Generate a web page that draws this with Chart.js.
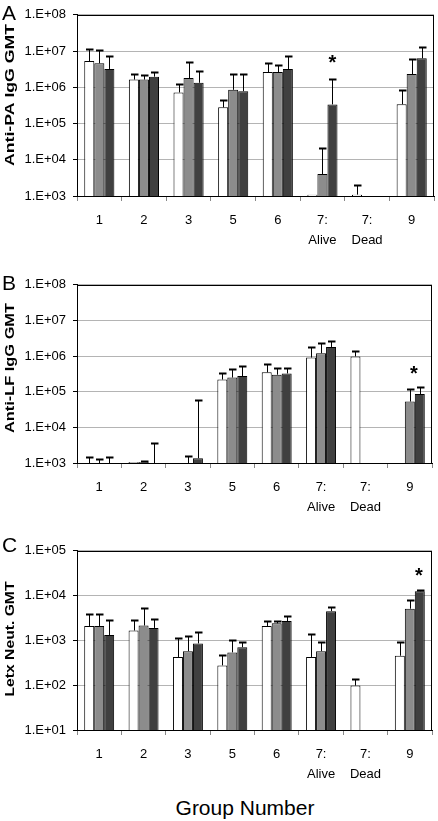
<!DOCTYPE html>
<html><head><meta charset="utf-8">
<script src="https://cdn.jsdelivr.net/npm/chart.js@4.4.1/dist/chart.umd.min.js"></script>
<style>
html,body{margin:0;padding:0;background:#fff;}
#wrap{position:relative;width:438px;height:821px;overflow:hidden;background:#fff;font-family:"Liberation Sans",Arial,sans-serif;}
canvas{position:absolute;left:0;}
.lbl{position:absolute;font-size:21px;line-height:21px;color:#000;white-space:nowrap;}
</style></head><body>
<div id="wrap">
<canvas id="cA" width="438" height="262" style="top:0px;width:438px;height:262px"></canvas>
<canvas id="cB" width="438" height="262" style="top:270px;width:438px;height:262px"></canvas>
<canvas id="cC" width="438" height="254" style="top:536px;width:438px;height:254px"></canvas>
<div class="lbl" style="left:2px;top:2px">A</div>
<div class="lbl" style="left:2px;top:272px">B</div>
<div class="lbl" style="left:2px;top:534px">C</div>
<div class="lbl" style="left:145px;top:797px;width:200px;text-align:center">Group Number</div>
</div>
<script>
// ---- data ----
const categories = ['1', '2', '3', '5', '6', ['7:', 'Alive'], ['7:', 'Dead'], '9'];

// Panel A: Anti-PA IgG GMT
const paWhite    = [5.3e6, 1.63e6, 7.2e5, 2.8e5, 2.63e6, 1.09e3, 1.09e3, 3.4e5];
const paWhiteErr = [1.17e7, 2.4e6, 1.23e6, 4.5e5, 4.6e6, null, 2.0e3, 8.3e5];
const paGray     = [4.6e6, 1.63e6, 1.8e6, 8.5e5, 2.63e6, 4.05e3, null, 2.32e6];
const paGrayErr  = [1.08e7, 2.2e6, 4.9e6, 2.4e6, 4.2e6, 2.05e4, null, 6.2e6];
const paDark     = [3.2e6, 1.96e6, 1.33e6, 7.8e5, 3.2e6, 3.37e5, null, 6.3e6];
const paDarkErr  = [7.2e6, 2.7e6, 2.85e6, 2.4e6, 7.2e6, 1.64e6, null, 1.33e7];

// Panel B: Anti-LF IgG GMT
const lfWhite    = [1.0e3, 1.07e3, null, 2.2e5, 3.5e5, 9.1e5, 9.8e5, null];
const lfWhiteErr = [1.45e3, null, null, 3.3e5, 6.1e5, 1.85e6, 1.4e6, null];
const lfGray     = [1.0e3, 1.07e3, 1.0e3, 2.5e5, 3.0e5, 1.2e6, null, 5.3e4];
const lfGrayErr  = [1.26e3, 1.16e3, 1.58e3, 4.4e5, 4.7e5, 2.3e6, null, 1.2e5];
const lfDark     = [1.0e3, 1.0e3, 1.36e3, 2.75e5, 3.25e5, 1.8e6, null, 8.6e4];
const lfDarkErr  = [1.45e3, 3.7e3, 5.7e4, 5.2e5, 4.7e5, 2.7e6, null, 1.33e5];

// Panel C: Letx Neut. GMT
const ltWhite    = [2.1e3, 1.66e3, 427, 277, 2.1e3, 427, 98, 455];
const ltWhiteErr = [3.8e3, 2.9e3, 1.13e3, 480, 2.7e3, 1.4e3, 138, 910];
const ltGray     = [2.1e3, 2.15e3, 575, 540, 2.4e3, 575, null, 5.1e3];
const ltGrayErr  = [3.8e3, 5.2e3, 1.26e3, 1.0e3, 2.7e3, 910, null, 8.1e3];
const ltDark     = [1.32e3, 1.9e3, 855, 705, 2.7e3, 4.5e3, null, 1.25e4];
const ltDarkErr  = [2.9e3, 3.05e3, 1.55e3, 910, 3.55e3, 5.5e3, null, 1.3e4];

// ---- styling / layout ----
const FAMILY = '"Liberation Sans", Arial, sans-serif';
const COLORS = ['#ffffff', '#8c8c8c', '#404040'];

const fmt = v => {
  const e = Math.round(Math.log10(v));
  return '1.E+' + String(e).padStart(2, '0');
};

const extrasPlugin = {
  id: 'extras',
  afterDatasetsDraw(chart, args, opts) {
    const ctx = chart.ctx, ys = chart.scales.y;
    ctx.save();
    ctx.strokeStyle = '#000';
    opts.errors.forEach((errArr, i) => {
      const meta = chart.getDatasetMeta(i);
      errArr.forEach((e, j) => {
        const v = chart.data.datasets[i].data[j];
        if (e == null || v == null) return;
        const el = meta.data[j];
        const x = Math.round(el.x) + 0.5;
        const yb = el.y;
        const yt = Math.round(ys.getPixelForValue(e)) + 0.5;
        ctx.lineWidth = 1;
        ctx.beginPath(); ctx.moveTo(x, yb); ctx.lineTo(x, yt); ctx.stroke();
        ctx.lineWidth = 2;
        ctx.beginPath(); ctx.moveTo(x - 3.5, yt); ctx.lineTo(x + 4, yt); ctx.stroke();
      });
    });
    ctx.restore();
  },
  afterDraw(chart, args, opts) {
    const ctx = chart.ctx, a = chart.chartArea, ys = chart.scales.y;
    ctx.save();
    // plot frame
    ctx.strokeStyle = '#000'; ctx.lineWidth = 1;
    ctx.strokeRect(Math.round(a.left) + 0.5, Math.round(a.top) + 0.5,
                   Math.round(a.right - a.left) - 1, Math.round(a.bottom - a.top));
    // y title, stretched along its length
    ctx.font = 'bold 13px ' + FAMILY;
    ctx.fillStyle = '#000';
    const w = ctx.measureText(opts.title).width;
    ctx.translate(opts.titleX, opts.titleY);
    ctx.rotate(-Math.PI / 2);
    ctx.scale(opts.titleLen / w, 1);
    ctx.textAlign = 'center'; ctx.textBaseline = 'alphabetic';
    ctx.fillText(opts.title, 0, 0);
    ctx.restore();
    // asterisk
    const s = opts.star;
    if (s) {
      ctx.save();
      ctx.font = 'bold 20px ' + FAMILY;
      ctx.fillStyle = '#000';
      ctx.textAlign = 'center'; ctx.textBaseline = 'alphabetic';
      const m = ctx.measureText('*');
      const el = chart.getDatasetMeta(s.ds).data[s.cat];
      const cy = ys.getPixelForValue(s.value);
      const base = cy + (m.actualBoundingBoxAscent - m.actualBoundingBoxDescent) / 2;
      ctx.fillText('*', el.x + s.dx, base);
      ctx.restore();
    }
  }
};

function makePanel(id, P) {
  new Chart(document.getElementById(id), {
    type: 'bar',
    data: {
      labels: categories,
      datasets: P.series.map((d, i) => ({
        data: d,
        backgroundColor: COLORS[i],
        borderColor: '#000',
        borderWidth: 1,
        barPercentage: 1.0,
        categoryPercentage: 0.675
      }))
    },
    options: {
      responsive: false,
      devicePixelRatio: 1,
      animation: false,
      events: [],
      layout: { padding: { top: P.top, right: P.right, left: 0, bottom: 0 } },
      plugins: {
        legend: { display: false },
        tooltip: { enabled: false },
        extras: { errors: P.errors, title: P.title, titleX: 14, titleY: P.titleY, titleLen: P.titleLen, star: P.star }
      },
      scales: {
        x: {
          offset: true,
          afterFit: s => { s.height = P.xh; },
          ticks: { font: { size: 13, family: FAMILY, lineHeight: 1.55 }, color: '#000', padding: 9, maxRotation: 0, autoSkip: false },
          grid: { offset: true, drawOnChartArea: false, tickLength: 5, color: '#888', tickColor: '#888' },
          border: { display: true, color: '#000', width: 1 }
        },
        y: {
          type: 'logarithmic',
          min: P.min, max: P.max,
          afterBuildTicks: s => {
            const t = [];
            for (let e = Math.round(Math.log10(P.min)); e <= Math.round(Math.log10(P.max)); e++) t.push({ value: Math.pow(10, e) });
            s.ticks = t;
          },
          afterFit: s => { s.width = 77; },
          ticks: { callback: v => fmt(v), font: { size: 13, family: FAMILY }, color: '#000', padding: 7, autoSkip: false },
          grid: { color: '#b4b4b4', tickColor: '#000', tickLength: 4 },
          border: { display: true, color: '#000', width: 1 }
        }
      }
    },
    plugins: [extrasPlugin]
  });
}

makePanel('cA', {
  series: [paWhite, paGray, paDark],
  errors: [paWhiteErr, paGrayErr, paDarkErr],
  min: 1e3, max: 1e8, top: 9, right: 4, xh: 262 - 196,
  title: 'Anti-PA IgG GMT', titleY: 95, titleLen: 142,
  star: { cat: 5, ds: 2, value: 5.9e6, dx: 0 }
});
makePanel('cB', {
  series: [lfWhite, lfGray, lfDark],
  errors: [lfWhiteErr, lfGrayErr, lfDarkErr],
  min: 1e3, max: 1e8, top: 9, right: 6, xh: 262 - 193,
  title: 'Anti-LF IgG GMT', titleY: 98, titleLen: 130,
  star: { cat: 7, ds: 1, value: 4.1e5, dx: 4 }
});
makePanel('cC', {
  series: [ltWhite, ltGray, ltDark],
  errors: [ltWhiteErr, ltGrayErr, ltDarkErr],
  min: 1e1, max: 1e5, top: 9, right: 6, xh: 254 - 194,
  title: 'Letx Neut. GMT', titleY: 103, titleLen: 115,
  star: { cat: 7, ds: 2, value: 3.4e4, dx: -1 }
});
</script>
</body></html>
